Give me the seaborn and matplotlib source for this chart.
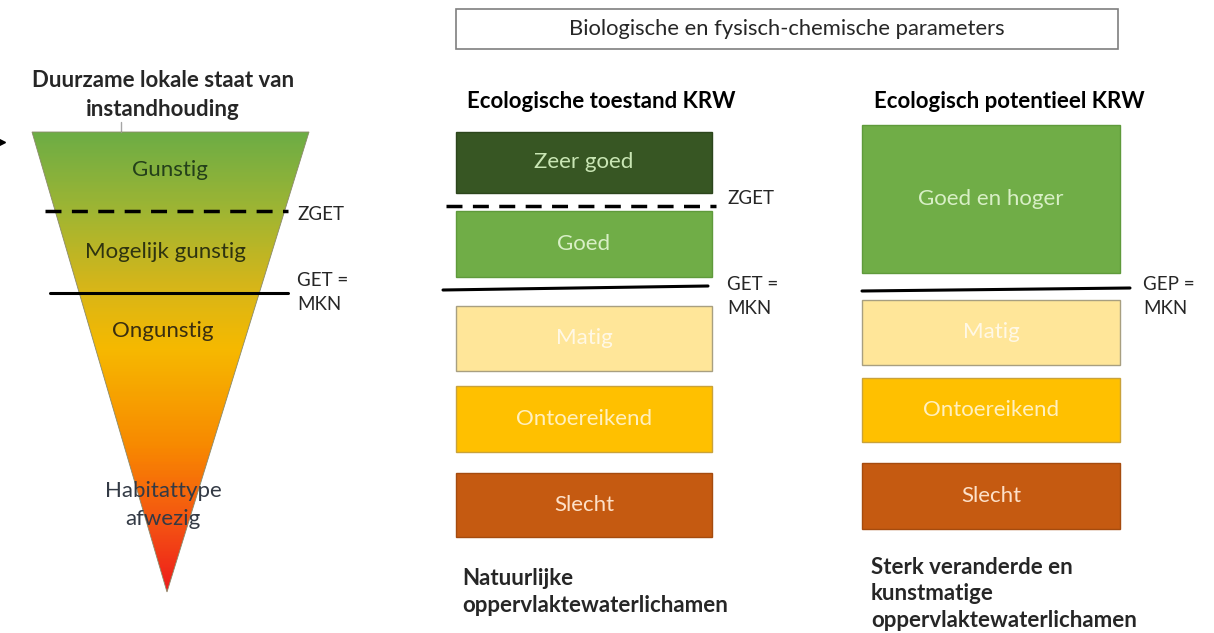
import numpy as np
import matplotlib
matplotlib.use("Agg")
import matplotlib.pyplot as plt
from matplotlib.patches import Polygon
from matplotlib.colors import LinearSegmentedColormap
import seaborn as sns

sns.set_theme(style="white")
plt.rcParams['font.family'] = ['Lato', 'DejaVu Sans']

# ---------------- data ----------------
header_text = "Biologische en fysisch-chemische parameters"

funnel_title = "Duurzame lokale staat van\ninstandhouding"
funnel_labels = ["Gunstig", "Mogelijk gunstig", "Ongunstig", "Habitattype\nafwezig"]

krw_title = "Ecologische toestand KRW"
krw_classes = ["Zeer goed", "Goed", "Matig", "Ontoereikend", "Slecht"]
krw_colors = ["#375623", "#70ad47", "#ffe699", "#ffc000", "#c55a11"]
krw_textcolors = ["#c9e6b4", "#d8efc6", "#fff8e6", "#fff0c0", "#fde0c8"]
krw_footer = "Natuurlijke\noppervlaktewaterlichamen"

pot_title = "Ecologisch potentieel KRW"
pot_classes = ["Goed en hoger", "Matig", "Ontoereikend", "Slecht"]
pot_colors = ["#70ad47", "#ffe699", "#ffc000", "#c55a11"]
pot_textcolors = ["#d8efc6", "#fff8e6", "#fff0c0", "#fde0c8"]
pot_footer = "Sterk veranderde en\nkunstmatige\noppervlaktewaterlichamen"

threshold_zget = "ZGET"
threshold_get = "GET =\nMKN"
threshold_gep = "GEP =\nMKN"

# ---------------- layout (pixel coordinates) ----------------
W, H = 1214, 633
fig = plt.figure(figsize=(W / 100, H / 100), dpi=100)
ax = fig.add_axes([0, 0, 1, 1])
ax.set_xlim(0, W)
ax.set_ylim(H, 0)
ax.axis("off")

TXT = "#262626"
FS_BIG = 16
FS_SMALL = 13.5
DASH = (0, (4.6, 3.0))

# header box
ax.add_patch(plt.Rectangle((456, 9), 662, 40, fill=False, ec="#7f7f7f", lw=1.2))
ax.text(787, 29, header_text, ha="center", va="center", fontsize=FS_BIG - 0.2, color=TXT)

# ---------------- funnel ----------------
ax.text(163, 95, funnel_title, ha="center", va="center", fontsize=FS_BIG,
        fontweight="bold", color=TXT, linespacing=1.45)
ax.plot([121, 121], [122, 132], color="#a6a6a6", lw=1)
ax.plot([2], [142], marker=">", color="black", ms=4)

stops = [(0.00, "#6dad45"), (0.17, "#9fb533"), (0.34, "#d8b618"),
         (0.47, "#f6b900"), (0.68, "#f88a00"), (0.85, "#f45412"), (1.00, "#ee1c1c")]
cmap = LinearSegmentedColormap.from_list("funnel", stops)
grad = np.linspace(0, 1, 400).reshape(-1, 1)
im = ax.imshow(grad, cmap=cmap, extent=(32, 309, 592, 132), aspect="auto", zorder=1)
tri = Polygon([(32, 132), (309, 132), (167, 592)], closed=True,
              fc="none", ec="#8a8a6a", lw=0.6, zorder=2)
ax.add_patch(tri)
im.set_clip_path(tri)

ax.plot([45, 288], [211, 211], color="black", lw=2.5, ls=DASH, zorder=3)
ax.plot([50, 288], [293, 293], color="black", lw=2.2, zorder=3)
ax.text(297, 214, threshold_zget, ha="left", va="center", fontsize=FS_SMALL, color=TXT)
ax.text(297, 293, threshold_get, ha="left", va="center", fontsize=FS_SMALL, color=TXT,
        linespacing=1.5)

funnel_y = [170, 252, 331, 505]
funnel_x = [170, 165, 163, 163]
funnel_tc = ["#24401a", "#2e3310", "#3a2e10", "#333a45"]
for lab, x, y, c in zip(funnel_labels, funnel_x, funnel_y, funnel_tc):
    ax.text(x, y, lab, ha="center", va="center", fontsize=FS_BIG, color=c,
            zorder=4, linespacing=1.45)

# ---------------- KRW natural ----------------
ax.text(467, 101, krw_title, ha="left", va="center", fontsize=FS_BIG,
        fontweight="bold", color="black")
krw_top = [132, 211, 306, 386, 473]
krw_bottom = [193, 277, 371, 452, 537]
krw_left, krw_right = 456, 712
heights = [b - t for t, b in zip(krw_top, krw_bottom)]
ax.bar([(krw_left + krw_right) / 2] * len(krw_classes), heights,
       width=krw_right - krw_left, bottom=krw_top, color=krw_colors,
       edgecolor=["#2c451c", "#5f9a3b", "#a89f80", "#c9a23a", "#a54b0e"], linewidth=1)
for lab, t, b, tc in zip(krw_classes, krw_top, krw_bottom, krw_textcolors):
    ax.text((krw_left + krw_right) / 2, (t + b) / 2, lab, ha="center", va="center",
            fontsize=FS_BIG, color=tc)
ax.plot([446, 716], [206, 206], color="black", lw=2.5, ls=DASH)
ax.plot([443, 708], [290, 286], color="black", lw=2.2)
ax.text(727, 199, threshold_zget, ha="left", va="center", fontsize=FS_SMALL, color=TXT)
ax.text(727, 297, threshold_get, ha="left", va="center", fontsize=FS_SMALL, color=TXT,
        linespacing=1.5)
ax.text(462, 592, krw_footer, ha="left", va="center", fontsize=FS_BIG,
        fontweight="bold", color=TXT, linespacing=1.35)

# ---------------- KRW potential ----------------
ax.text(874, 101, pot_title, ha="left", va="center", fontsize=FS_BIG,
        fontweight="bold", color="black")
pot_top = [125, 300, 378, 463]
pot_bottom = [273, 365, 442, 529]
pot_left, pot_right = 862, 1120
pheights = [b - t for t, b in zip(pot_top, pot_bottom)]
ax.bar([(pot_left + pot_right) / 2] * len(pot_classes), pheights,
       width=pot_right - pot_left, bottom=pot_top, color=pot_colors,
       edgecolor=["#5f9a3b", "#a89f80", "#c9a23a", "#a54b0e"], linewidth=1)
for lab, t, b, tc in zip(pot_classes, pot_top, pot_bottom, pot_textcolors):
    ax.text((pot_left + pot_right) / 2, (t + b) / 2, lab, ha="center", va="center",
            fontsize=FS_BIG, color=tc)
ax.plot([862, 1130], [291, 288], color="black", lw=2.2)
ax.text(1143, 297, threshold_gep, ha="left", va="center", fontsize=FS_SMALL, color=TXT,
        linespacing=1.5)
ax.text(871, 594, pot_footer, ha="left", va="center", fontsize=FS_BIG,
        fontweight="bold", color=TXT, linespacing=1.35)

fig.savefig("out.png", dpi=100, facecolor="white")
